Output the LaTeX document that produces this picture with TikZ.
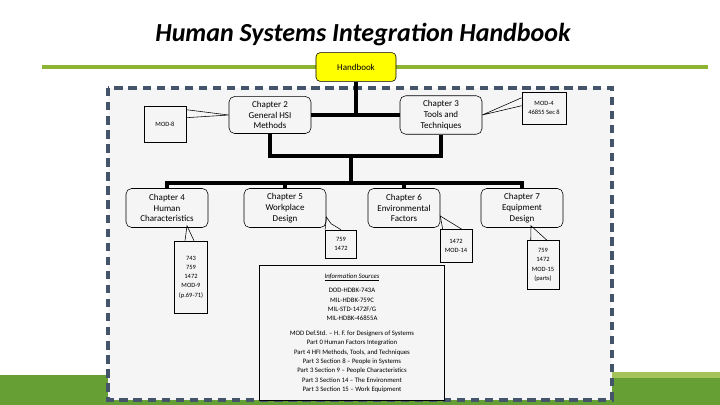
\documentclass[tikz,border=0pt]{standalone}
\usepackage{fontspec}
\setmainfont{Carlito}
\usetikzlibrary{positioning,calc}
\definecolor{hsigreen}{RGB}{141,180,50}
\definecolor{hsibar}{RGB}{102,160,52}
\definecolor{hsiblue}{RGB}{68,84,106}
\definecolor{hsiyellow}{RGB}{255,255,0}
\begin{document}
\begin{tikzpicture}
    [
      x=0.025cm, y=-0.025cm,
      chapter/.style=
        {
          rectangle,
          rounded corners=4pt,
          draw=black,
          fill=gray!8,
          minimum width=2.05cm,
          minimum height=0.9cm,
          align=center,
          font=\fontsize{6.4}{7.6}\selectfont,
        },
      callout/.style=
        {
          rectangle,
          draw=black,
          fill=gray!8,
          align=center,
          font=\fontsize{4.6}{6.6}\selectfont,
        },
      trunk/.style={line width=2.6pt},
      pointer/.style={line width=0.4pt},
    ]
    % page margins and background bars
    \useasboundingbox (0,0) rectangle (720,405);
    \fill [hsibar] (0,375) rectangle (720,405);
    \fill [hsigreen!80] (612,372) rectangle (720,378);
    \draw [hsigreen, line width=2.2pt] (42,67) -- (708,67);
    \node (title) at (363,35) {\fontsize{18.5}{21}\selectfont\bfseries\itshape Human Systems Integration Handbook};

    % dashed frame
    \draw [hsiblue, fill=gray!8, line width=2.4pt, dash pattern=on 6pt off 4pt] (108,88) rectangle (612,400);

    % boxes
    \node (hb) [chapter, rounded corners=3pt, fill=hsiyellow, minimum width=2cm, minimum height=0.72cm] at (356,67) {Handbook};
    \node (ch2) [chapter] at (270,115) {Chapter 2\\General HSI\\Methods};
    \node (ch3) [chapter] at (441,115) {Chapter 3\\Tools and\\Techniques};
    \node (ch4) [chapter, minimum height=0.975cm] at (167,208) {Chapter 4\\Human\\Characteristics};
    \node (ch5) [chapter, minimum height=0.975cm] at (285,208) {Chapter 5\\Workplace\\Design};
    \node (ch6) [chapter, minimum height=0.975cm, minimum width=1.8cm] at (404,208) {Chapter 6\\Environmental\\Factors};
    \node (ch7) [chapter, minimum height=0.975cm] at (522,208) {Chapter 7\\Equipment\\Design};

    \node (mod8) [callout, minimum width=1.05cm, minimum height=0.9cm] at (165,124) {MOD-8};
    \node (mod4) [callout, minimum width=1.1cm, minimum height=0.8cm] at (544,108) {MOD-4\\46855 Sec 8};
    \node (src4) [callout, minimum width=0.8cm, minimum height=1.8cm] at (191,277) {743\\759\\1472\\MOD-9\\(p.69-71)};
    \node (src5) [callout, minimum width=0.78cm, minimum height=0.7cm] at (341,244) {759\\1472};
    \node (src6) [callout, minimum width=0.8cm, minimum height=0.82cm] at (456,246) {1472\\MOD-14};
    \node (src7) [callout, minimum width=0.8cm, minimum height=1.22cm] at (543,265) {759\\1472\\MOD-15\\(parts)};

    \node (info) [callout, anchor=north, minimum width=4.62cm, minimum height=3.38cm, inner sep=3pt, font=\fontsize{4.8}{6.6}\selectfont] at (352,265)
      {\underline{\itshape Information Sources}\\[4pt]
       DOD-HDBK-743A\\MIL-HDBK-759C\\MIL-STD-1472F/G\\MIL-HDBK-46855A\\[4pt]
       MOD Def.Std. -- H. F. for Designers of Systems\\
       Part 0 Human Factors Integration\\
       Part 4 HFI Methods, Tools, and Techniques\\
       Part 3 Section 8 -- People in Systems\\
       Part 3 Section 9 -- People Characteristics\\
       Part 3 Section 14 -- The Environment\\
       Part 3 Section 15 -- Work Equipment};

    % tree connectors
    \draw [trunk] (ch2.east) -- (ch3.west);
    \draw [trunk] (hb.south) -- (hb.south |- ch2.east);
    \draw [trunk] (ch2.south) |- (351,156) -| (ch3.south);
    \coordinate (split) at (351,183);
    \draw [trunk] (351,156) -- (split);
    \draw [trunk] (ch4.north) |- (split) -| (ch7.north);
    \draw [trunk] (ch5.north) -- (ch5.north |- split);
    \draw [trunk] (ch6.north) -- (ch6.north |- split);

    % pointers
    \coordinate (p2) at (ch2.west);
    \draw [pointer] ($(mod8.north east)+(0,4)$) -- (p2) -- ($(mod8.north east)+(0,12)$);
    \coordinate (p3) at (ch3.east);
    \draw [pointer] ($(mod4.north west)+(0,6)$) -- (p3) -- ($(mod4.north west)+(0,14)$);
    \coordinate (p4) at ($(ch4.south)+(20,-2)$);
    \draw [pointer] ($(src4.north)+(-6,0)$) -- (p4) -- ($(src4.north)+(3,0)$);
    \coordinate (p5) at ($(ch5.east)+(0,9)$);
    \draw [pointer] ($(src5.north west)+(0,0)$) -- (p5) -- ($(src5.north west)+(6,-6)$) -- (src5.north);
    \coordinate (p6) at ($(ch6.east)+(0,8)$);
    \draw [pointer] ($(src6.north west)+(3,0)$) -- (p6) -- ($(src6.north)+(6,0)$);
    \coordinate (p7) at ($(ch7.south)+(9,-2)$);
    \draw [pointer] ($(src7.north west)+(4,0)$) -- (p7) -- ($(src7.north)+(4,0)$);
\end{tikzpicture}
\end{document}
